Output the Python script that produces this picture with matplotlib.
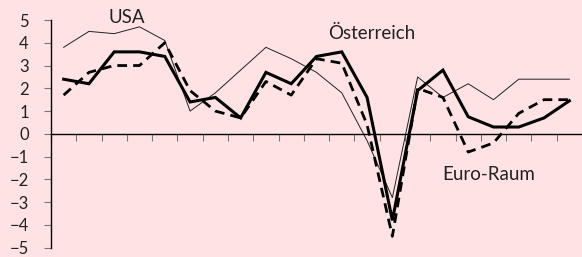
import matplotlib
matplotlib.use("Agg")
import matplotlib.pyplot as plt

# GDP growth, % change on previous year, 1996-2016
years = list(range(1996, 2017))
usa = [3.8, 4.5, 4.4, 4.7, 4.1, 1.0, 1.8, 2.8, 3.8, 3.3, 2.7, 1.8, -0.3,
       -2.8, 2.5, 1.6, 2.2, 1.5, 2.4, 2.4, 2.4]
oesterreich = [2.4, 2.2, 3.6, 3.6, 3.4, 1.4, 1.6, 0.7, 2.7, 2.2, 3.4, 3.6, 1.6,
               -3.8, 1.9, 2.8, 0.75, 0.3, 0.3, 0.7, 1.45]
euro_raum = [1.7, 2.7, 3.0, 3.0, 4.0, 1.9, 1.0, 0.7, 2.3, 1.7, 3.3, 3.1, 0.4,
             -4.5, 2.0, 1.6, -0.8, -0.4, 0.9, 1.5, 1.5]
y_ticks = [-5, -4, -3, -2, -1, 0, 1, 2, 3, 4, 5]

bg = "#ffe3e4"
plt.rcParams["font.family"] = "Lato"

fig = plt.figure(figsize=(5.82, 2.57), dpi=100, facecolor=bg)
ax = fig.add_axes([51 / 582, 9.3 / 257, 531 / 582, 227.7 / 257])
ax.set_facecolor(bg)

# points sit in the middle of each year slot
x = [i + 0.5 for i in range(len(years))]
ax.plot(x, usa, color="#222222", lw=0.7)
ax.plot(x, oesterreich, color="black", lw=2.2, solid_joinstyle="miter")
ax.plot(x, euro_raum, color="black", lw=2.0, ls=(0, (3.5, 2.2)))

ax.set_xlim(0, len(years))
ax.set_ylim(-5, 5)
ax.set_yticks(y_ticks)
ax.set_xticks(range(len(years)))
ax.set_xticklabels([])

for s in ["top", "right"]:
    ax.spines[s].set_visible(False)
ax.spines["bottom"].set_position(("data", 0))
ax.spines["left"].set_linewidth(1.0)
ax.spines["bottom"].set_linewidth(1.0)
ax.tick_params(axis="y", direction="out", length=5, color="#777777",
               labelsize=12, pad=11, labelcolor="#222222")
ax.tick_params(axis="x", direction="out", length=5, color="#777777")

ax.text(3.0, 5.13, "USA", fontsize=13.5, color="#222222", ha="center", va="center")
ax.text(12.7, 4.4, "Österreich", fontsize=13.5, color="#222222", ha="center", va="center")
ax.text(17.3, -1.8, "Euro-Raum", fontsize=13.5, color="#222222", ha="center", va="center")

fig.savefig("out.png", dpi=100, facecolor=bg)
